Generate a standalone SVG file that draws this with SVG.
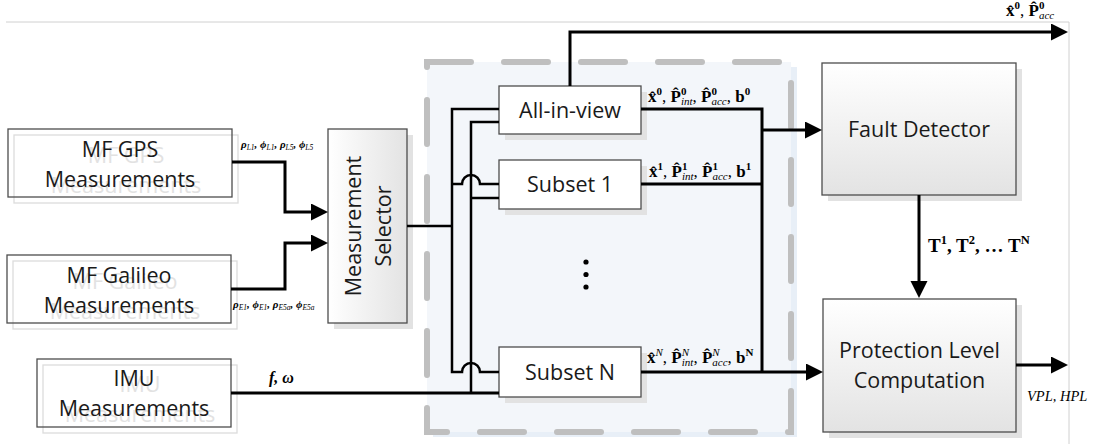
<svg xmlns="http://www.w3.org/2000/svg" width="1094" height="444" viewBox="0 0 1094 444">
<style>
.box{fill:none;stroke:#4d4d4d;stroke-width:1.3}
.wbox{fill:#fff;stroke:#4d4d4d;stroke-width:1.3}
.gbox{fill:url(#gv);stroke:#4d4d4d;stroke-width:1.3}
.ghostbox{fill:none;stroke:#dcdcdc;stroke-width:1.3}
.shadow{fill:#e2e2e2}
.t{font-family:"Open Sans","Liberation Sans",sans-serif;font-size:21.5px;fill:#1a1a1a;text-anchor:middle}
.gt{font-family:"Open Sans","Liberation Sans",sans-serif;font-size:21.5px;fill:#e2e2e2;text-anchor:middle}
.m{font-family:"Liberation Serif",serif;font-size:17px;fill:#000}
.b{font-weight:bold}
.i{font-style:italic}
.s{font-size:11px}
.g{font-family:"Liberation Serif",serif;font-size:11px;font-weight:bold;font-style:italic;fill:#000}
.gs{font-size:7.5px;font-weight:normal}
.c{fill:none;stroke:#000;stroke-width:3}
.bus{fill:none;stroke:#000;stroke-width:2.5}
.ca{fill:none;stroke:#000;stroke-width:3;marker-end:url(#ah)}
</style>
<defs>
<linearGradient id="gv" x1="0" y1="0" x2="0" y2="1"><stop offset="0" stop-color="#ffffff"/><stop offset="1" stop-color="#e3e3e3"/></linearGradient>
<linearGradient id="gh" x1="0" y1="0" x2="1" y2="0"><stop offset="0" stop-color="#ffffff"/><stop offset="1" stop-color="#e3e3e3"/></linearGradient>
<marker id="ah" markerUnits="userSpaceOnUse" markerWidth="18" markerHeight="18" refX="12" refY="8.5" orient="auto"><path d="M0,0 L17,8.5 L0,17 Z" fill="#000"/></marker>
</defs>
<rect width="1094" height="444" fill="#fff"/>
<path d="M6,22 H1069 V444" fill="none" stroke="#d0d0d0" stroke-width="1"/>

<g id="container">
<rect x="433" y="67" width="364" height="370" fill="#e8eff7"/>
<rect x="427" y="62" width="364" height="370" fill="#f3f6fa"/>
<path d="M427,62 H791 V432 H427 Z" fill="none" stroke="#bfbfbf" stroke-width="6" stroke-linecap="round" stroke-dasharray="44 33"/>
</g>

<g id="gps">
<g transform="translate(6,6)"><rect class="ghostbox" x="8" y="129" width="224" height="68"/><text class="gt" x="120" y="157">MF GPS</text><text class="gt" x="120" y="187">Measurements</text></g>
<rect class="box" x="8" y="129" width="224" height="68"/>
<text class="t" x="120" y="157">MF GPS</text><text class="t" x="120" y="187">Measurements</text>
</g>
<g id="galileo">
<g transform="translate(6,6)"><rect class="ghostbox" x="7" y="255" width="224" height="68"/><text class="gt" x="119" y="283">MF Galileo</text><text class="gt" x="119" y="313">Measurements</text></g>
<rect class="box" x="7" y="255" width="224" height="68"/>
<text class="t" x="119" y="283">MF Galileo</text><text class="t" x="119" y="313">Measurements</text>
</g>
<g id="imu">
<g transform="translate(6,6)"><rect class="ghostbox" x="37" y="359" width="194" height="68"/><text class="gt" x="134" y="386">IMU</text><text class="gt" x="134" y="416">Measurements</text></g>
<rect class="box" x="37" y="359" width="194" height="68"/>
<text class="t" x="134" y="386">IMU</text><text class="t" x="134" y="416">Measurements</text>
</g>
<g id="selector">
<rect class="shadow" x="334" y="135" width="79" height="194"/>
<rect x="328" y="129" width="79" height="194" fill="url(#gh)" stroke="#4d4d4d" stroke-width="1.3"/>
<g transform="translate(361,226) rotate(-90)"><text class="t" x="0" y="0">Measurement</text><text class="t" x="0" y="30">Selector</text></g>
</g>
<g id="allinview">
<rect class="shadow" x="505" y="92" width="142" height="48"/>
<rect class="wbox" x="499" y="86" width="142" height="48"/>
<text class="t" x="570" y="118">All-in-view</text>
</g>
<g id="subset1">
<rect class="shadow" x="505" y="166" width="142" height="49"/>
<rect class="wbox" x="499" y="160" width="142" height="49"/>
<text class="t" x="570" y="192">Subset 1</text>
</g>
<g id="subsetN">
<rect class="shadow" x="505" y="353" width="142" height="50"/>
<rect class="wbox" x="499" y="347" width="142" height="50"/>
<text class="t" x="570" y="380">Subset N</text>
</g>
<g id="dots">
<circle cx="586" cy="262" r="2.6"/><circle cx="586" cy="274.5" r="2.6"/><circle cx="586" cy="287" r="2.6"/>
</g>
<g id="fault">
<rect class="shadow" x="828" y="69" width="194" height="132"/>
<rect class="gbox" x="822" y="63" width="194" height="132"/>
<text class="t" x="919" y="137">Fault Detector</text>
</g>
<g id="protection">
<rect class="shadow" x="829" y="305" width="193" height="133"/>
<rect class="gbox" x="823" y="299" width="193" height="133"/>
<text class="t" x="919.5" y="358">Protection Level</text><text class="t" x="919.5" y="388">Computation</text>
</g>

<g id="connectors">
<path class="ca" d="M232,162 H285 V212 H323"/>
<path class="ca" d="M231,289 H285 V243 H323"/>
<path class="bus" d="M407,226 H452"/>
<path class="bus" d="M499,109 H452 V372 H462 A9,9 0 0 1 480,372 H499"/>
<path class="bus" d="M452,184 H462 A9,9 0 0 1 480,184 H499"/>
<path class="bus" d="M499,122 H471 V393"/>
<path class="bus" d="M471,198 H499"/>
<path class="c" d="M231,393 H499"/>
<path class="c" d="M641,109 H762 V372"/>
<path class="c" d="M641,184 H762"/>
<path class="ca" d="M762,130 H817"/>
<path class="ca" d="M641,372 H818"/>
<path class="ca" d="M570,86 V32 H1063"/>
<path class="ca" d="M919,195 V293"/>
<path class="ca" d="M1016,365 H1063"/>
</g>

<g id="labels">
<text class="g" x="241" y="148">ρ<tspan class="gs" dy="2">L1</tspan><tspan dy="-2">, ϕ</tspan><tspan class="gs" dy="2">L1</tspan><tspan dy="-2">, ρ</tspan><tspan class="gs" dy="2">L5</tspan><tspan dy="-2">, ϕ</tspan><tspan class="gs" dy="2">L5</tspan></text>
<text class="g" x="233" y="308">ρ<tspan class="gs" dy="2">E1</tspan><tspan dy="-2">, ϕ</tspan><tspan class="gs" dy="2">E1</tspan><tspan dy="-2">, ρ</tspan><tspan class="gs" dy="2">E5a</tspan><tspan dy="-2">, ϕ</tspan><tspan class="gs" dy="2">E5a</tspan></text>
<text class="m b i" x="269" y="383" style="font-size:16px">f, ω</text>

<text class="m" x="648" y="102"><tspan class="b">x̂</tspan><tspan class="s b" dy="-7">0</tspan><tspan dy="7">, </tspan><tspan class="b">P̂</tspan><tspan class="s b" dy="-7">0</tspan><tspan class="s i" dx="-5.5" dy="10">int</tspan><tspan dy="-3">, </tspan><tspan class="b">P̂</tspan><tspan class="s b" dy="-7">0</tspan><tspan class="s i" dx="-5.5" dy="10">acc</tspan><tspan dy="-3">, </tspan><tspan class="b">b</tspan><tspan class="s b" dy="-7">0</tspan></text>
<text class="m" x="649" y="177"><tspan class="b">x̂</tspan><tspan class="s b" dy="-7">1</tspan><tspan dy="7">, </tspan><tspan class="b">P̂</tspan><tspan class="s b" dy="-7">1</tspan><tspan class="s i" dx="-5.5" dy="10">int</tspan><tspan dy="-3">, </tspan><tspan class="b">P̂</tspan><tspan class="s b" dy="-7">1</tspan><tspan class="s i" dx="-5.5" dy="10">acc</tspan><tspan dy="-3">, </tspan><tspan class="b">b</tspan><tspan class="s b" dy="-7">1</tspan></text>
<text class="m" x="647" y="363"><tspan class="b">x̂</tspan><tspan class="s i" dy="-7">N</tspan><tspan dy="7">, </tspan><tspan class="b">P̂</tspan><tspan class="s i" dy="-7">N</tspan><tspan class="s i" dx="-7.3" dy="10">int</tspan><tspan dy="-3">, </tspan><tspan class="b">P̂</tspan><tspan class="s i" dy="-7">N</tspan><tspan class="s i" dx="-7.3" dy="10">acc</tspan><tspan dy="-3">, </tspan><tspan class="b">b</tspan><tspan class="s b" dy="-7">N</tspan></text>
<text class="m" x="1006" y="16"><tspan class="b">x̂</tspan><tspan class="s b" dy="-7">0</tspan><tspan dy="7">, </tspan><tspan class="b">P̂</tspan><tspan class="s b" dy="-7">0</tspan><tspan class="s i" dx="-5.5" dy="10">acc</tspan></text>
<text class="m b" x="928" y="252" style="font-size:19px">T<tspan style="font-size:12.5px" dy="-8">1</tspan><tspan dy="8">, T</tspan><tspan style="font-size:12.5px" dy="-8">2</tspan><tspan dy="8">, … T</tspan><tspan style="font-size:12.5px" dy="-8">N</tspan></text>
<text class="m i" x="1027" y="401" style="font-size:14.5px">VPL, HPL</text>
</g>
</svg>
